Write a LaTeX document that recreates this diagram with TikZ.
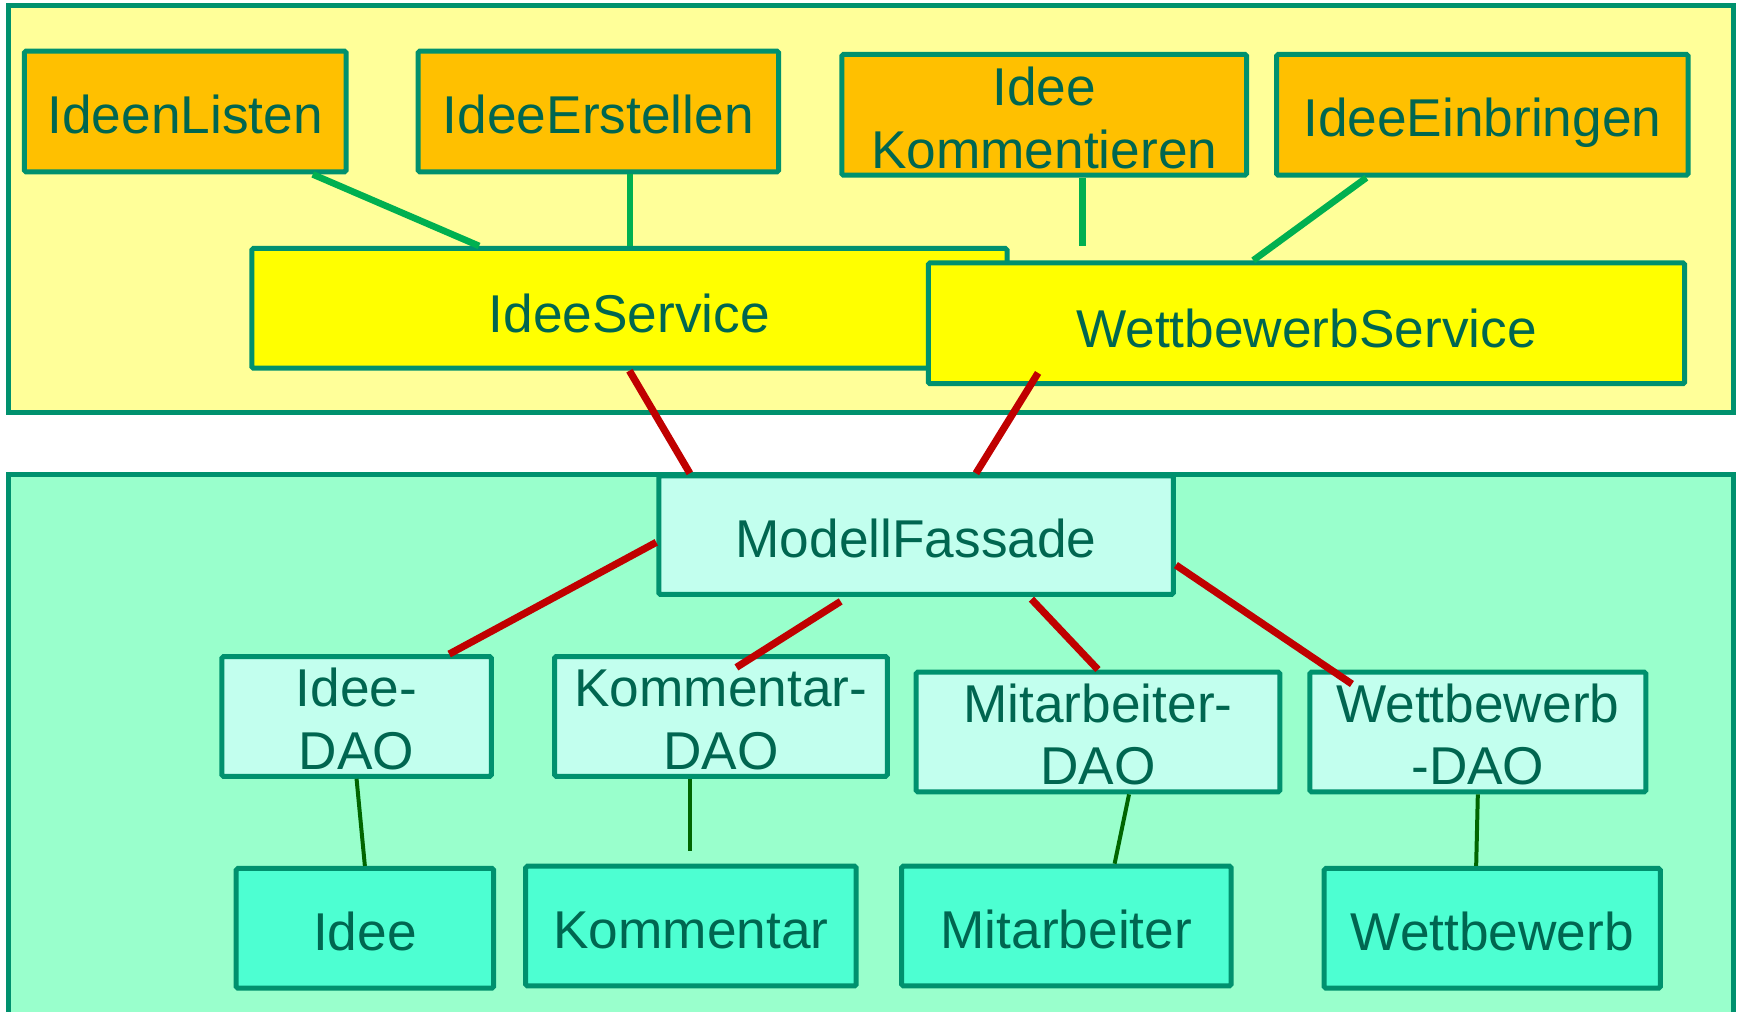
\documentclass[tikz,border=0pt]{standalone}
\usepackage{fontspec}
\setmainfont{Liberation Sans}
\definecolor{frame}{HTML}{00916E}
\definecolor{ink}{HTML}{006650}
\definecolor{layerA}{HTML}{FFFF99}
\definecolor{layerB}{HTML}{99FFCC}
\definecolor{usecase}{HTML}{FFC000}
\definecolor{service}{HTML}{FFFF00}
\definecolor{access}{HTML}{C2FFEE}
\definecolor{entity}{HTML}{4DFFD2}
\definecolor{linkA}{HTML}{00B050}
\definecolor{linkB}{HTML}{C00000}
\definecolor{linkC}{HTML}{006600}
\tikzset{
  panel/.style={draw=frame, line width=4.5pt},
  boxbase/.style={draw=frame, line width=4.5pt, rectangle, rounded corners=1.5pt, inner sep=0pt},
  ucbox/.style={boxbase, fill=usecase},
  svbox/.style={boxbase, fill=service},
  acbox/.style={boxbase, fill=access},
  enbox/.style={boxbase, fill=entity},
  txt/.style={anchor=base, inner sep=0pt, text=ink, font=\fontsize{48}{56}\selectfont},
  linkgreen/.style={draw=linkA, line width=6pt},
  linkred/.style={draw=linkB, line width=6.5pt},
  linkdark/.style={draw=linkC, line width=3.6pt},
}
\begin{document}
\begin{tikzpicture}[x=1pt, y=-1pt]
\clip (0,0) rectangle (1568,912);
\fill[white] (0,0) rectangle (1568,912);

% layers
\draw[panel, fill=layerA] (8,5) rectangle (1563,372);
\draw[panel, fill=layerB] (8,428) rectangle (1563,940);

% use cases
\node[ucbox, minimum width=290pt, minimum height=109pt] (ideenlisten) at (167,100.5) {};
\node[ucbox, minimum width=325pt, minimum height=109pt] (ideeerstellen) at (539.5,100.5) {};
\node[ucbox, minimum width=365pt, minimum height=109pt] (kommentieren) at (941.5,103.5) {};
\node[ucbox, minimum width=371pt, minimum height=109pt] (einbringen) at (1336.5,103.5) {};

% services
\node[svbox, minimum width=681pt, minimum height=108pt] (ideeservice) at (567.5,278) {};
\node[svbox, minimum width=682pt, minimum height=109pt] (wbservice) at (1178,291.5) {};

% facade and data access objects
\node[acbox, minimum width=464pt, minimum height=107pt] (fassade) at (826,482.5) {};
\node[acbox, minimum width=243pt, minimum height=108pt] (ideedao) at (321.5,646) {};
\node[acbox, minimum width=300pt, minimum height=108pt] (kommentardao) at (650,646) {};
\node[acbox, minimum width=328pt, minimum height=108pt] (mitarbeiterdao) at (990,660) {};
\node[acbox, minimum width=303pt, minimum height=108pt] (wettbewerbdao) at (1332.5,660) {};

% entities
\node[enbox, minimum width=232pt, minimum height=108pt] (idee) at (329,837) {};
\node[enbox, minimum width=298pt, minimum height=108pt] (kommentar) at (623,835) {};
\node[enbox, minimum width=297pt, minimum height=108pt] (mitarbeiter) at (961.5,835) {};
\node[enbox, minimum width=303pt, minimum height=108pt] (wettbewerb) at (1345.5,837) {};

% labels
\node[txt] (t-ideenlisten) at ([yshift=-20pt]ideenlisten.center) {IdeenListen};
\node[txt] (t-ideeerstellen) at ([yshift=-20pt]ideeerstellen.center) {IdeeErstellen};
\node[txt] (t-komm1) at ([yshift=8.5pt]kommentieren.center) {Idee};
\node[txt] (t-komm2) at ([yshift=-48.5pt]kommentieren.center) {Kommentieren};
\node[txt] (t-einbringen) at ([yshift=-19.5pt]einbringen.center) {IdeeEinbringen};
\node[txt] (t-ideeservice) at ([yshift=-22pt]ideeservice.center) {IdeeService};
\node[txt] (t-wbservice) at ([yshift=-21.5pt]wbservice.center) {WettbewerbService};
\node[txt] (t-fassade) at ([yshift=-20.5pt]fassade.center) {ModellFassade};
\node[txt] (t-ideedao1) at ([yshift=9pt]ideedao.center) {Idee-};
\node[txt] (t-ideedao2) at ([yshift=-48pt]ideedao.center) {DAO};
\node[txt] (t-kommdao1) at ([yshift=9pt]kommentardao.center) {Kommentar-};
\node[txt] (t-kommdao2) at ([yshift=-48pt]kommentardao.center) {DAO};
\node[txt] (t-mitdao1) at ([yshift=9pt]mitarbeiterdao.center) {Mitarbeiter-};
\node[txt] (t-mitdao2) at ([yshift=-47pt]mitarbeiterdao.center) {DAO};
\node[txt] (t-wbdao1) at ([yshift=9pt]wettbewerbdao.center) {Wettbewerb};
\node[txt] (t-wbdao2) at ([yshift=-47pt]wettbewerbdao.center) {-DAO};
\node[txt] (t-idee) at ([yshift=-20pt]idee.center) {Idee};
\node[txt] (t-kommentar) at ([yshift=-20pt]kommentar.center) {Kommentar};
\node[txt] (t-mitarbeiter) at ([yshift=-20pt]mitarbeiter.center) {Mitarbeiter};
\node[txt] (t-wettbewerb) at ([yshift=-20pt]wettbewerb.center) {Wettbewerb};

% use cases to services
\draw[linkgreen] ([xshift=115pt]ideenlisten.south) -- ([xshift=-135.5pt]ideeservice.north);
\draw[linkgreen] ([xshift=28.5pt]ideeerstellen.south) -- ([xshift=28.5pt]ideeerstellen.south |- ideeservice.north);
\coordinate (kommend) at ([xshift=34.5pt]kommentieren.south |- ideeservice.north);
\draw[linkgreen] ([xshift=34.5pt]kommentieren.south) -- (kommend);
\draw[linkgreen] ([xshift=-104.5pt]einbringen.south) -- ([xshift=-48pt]wbservice.north);

% services to facade, facade to DAOs
\draw[linkred] (ideeservice.south) -- ([xshift=-204pt]fassade.north);
\draw[linkred] ([xshift=-242pt,yshift=12pt]wbservice.south) -- ([xshift=54pt]fassade.north);
\draw[linkred] ([yshift=-6.5pt]fassade.west) -- ([xshift=83.5pt]ideedao.north);
\draw[linkred] ([xshift=-68pt,yshift=-4pt]fassade.south) -- ([xshift=14pt,yshift=-12pt]kommentardao.north);
\draw[linkred] ([xshift=104pt,yshift=-2pt]fassade.south) -- (mitarbeiterdao.north);
\draw[linkred] ([yshift=-27pt]fassade.east) -- ([xshift=-113.5pt,yshift=-13pt]wettbewerbdao.north);

% DAOs to entities
\draw[linkdark] (ideedao.south) -- (idee.north);
\coordinate (kommtop) at ([yshift=11pt]kommentar.north);
\coordinate (kommdaoend) at ([xshift=-28pt]kommentardao.south |- kommtop);
\draw[linkdark] ([xshift=-28pt]kommentardao.south) -- (kommdaoend);
\draw[linkdark] ([xshift=28pt]mitarbeiterdao.south) -- ([xshift=43.5pt]mitarbeiter.north);
\draw[linkdark] (wettbewerbdao.south) -- ([xshift=-14.5pt]wettbewerb.north);
\end{tikzpicture}
\end{document}
